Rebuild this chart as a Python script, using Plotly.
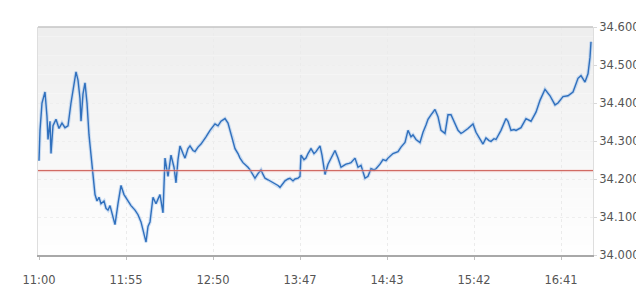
import plotly.graph_objects as go

# sample index (evenly spaced samples) and price
t = [0, 1, 3, 6, 8, 9, 11, 12, 14, 17, 20, 23, 26, 29, 32, 35, 37, 39, 41, 42, 44, 46, 48, 50, 52, 54,
     56, 58, 60, 62, 65, 67, 69, 71, 74, 76, 79, 82, 85, 89, 92, 96, 99, 102, 105, 107, 109, 111, 114,
     117, 119, 121, 124, 126, 129, 132, 135, 137, 139, 141, 144, 146, 149, 151, 154, 156, 159, 162, 167,
     171, 176, 179, 182, 186, 189, 192, 194, 196, 199, 201, 204, 206, 209, 211, 214, 216, 219, 222, 224,
     226, 229, 231, 234, 236, 239, 241, 244, 246, 249, 251, 254, 256, 259, 261, 262, 265, 267, 269, 272,
     275, 277, 281, 283, 286, 289, 293, 296, 299, 302, 305, 307, 310, 312, 316, 319, 322, 326, 329, 332,
     335, 337, 341, 344, 347, 349, 354, 359, 362, 366, 369, 372, 374, 377, 381, 384, 387, 389, 392, 396,
     399, 402, 406, 409, 412, 416, 419, 422, 424, 429, 434, 437, 441, 444, 447, 450, 452, 455, 457, 462,
     467, 469, 472, 475, 477, 482, 487, 492, 497, 501, 506, 511, 516, 519, 524, 529, 534, 537, 539, 542,
     546, 549, 551, 552]

price = [34.248, 34.328, 34.400, 34.429, 34.364, 34.304, 34.352, 34.267, 34.340, 34.357, 34.333, 34.347,
         34.335, 34.340, 34.400, 34.448, 34.482, 34.460, 34.412, 34.352, 34.424, 34.453, 34.400, 34.316,
         34.263, 34.224, 34.159, 34.142, 34.152, 34.135, 34.142, 34.123, 34.118, 34.130, 34.099, 34.080,
         34.135, 34.183, 34.159, 34.142, 34.130, 34.118, 34.106, 34.087, 34.051, 34.034, 34.075, 34.087,
         34.152, 34.135, 34.147, 34.159, 34.111, 34.255, 34.207, 34.263, 34.231, 34.190, 34.251, 34.287,
         34.267, 34.255, 34.280, 34.287, 34.275, 34.272, 34.284, 34.292, 34.311, 34.328, 34.345, 34.340,
         34.352, 34.359, 34.347, 34.320, 34.304, 34.280, 34.267, 34.255, 34.243, 34.239, 34.231, 34.224,
         34.212, 34.202, 34.214, 34.224, 34.212, 34.202, 34.198, 34.195, 34.190, 34.188, 34.183, 34.178,
         34.188, 34.195, 34.200, 34.202, 34.195, 34.200, 34.202, 34.207, 34.263, 34.251, 34.255, 34.267,
         34.280, 34.267, 34.272, 34.287, 34.263, 34.212, 34.239, 34.260, 34.275, 34.255, 34.231, 34.236,
         34.239, 34.241, 34.243, 34.255, 34.231, 34.236, 34.202, 34.207, 34.227, 34.224, 34.227, 34.239,
         34.251, 34.248, 34.255, 34.267, 34.272, 34.284, 34.296, 34.328, 34.311, 34.316, 34.304, 34.296,
         34.323, 34.342, 34.357, 34.369, 34.383, 34.364, 34.328, 34.320, 34.369, 34.369, 34.345, 34.328,
         34.320, 34.323, 34.333, 34.345, 34.323, 34.304, 34.292, 34.308, 34.301, 34.299, 34.306, 34.304,
         34.328, 34.359, 34.352, 34.328, 34.330, 34.328, 34.335, 34.359, 34.352, 34.376, 34.407, 34.436,
         34.419, 34.395, 34.400, 34.417, 34.419, 34.429, 34.448, 34.465, 34.472, 34.455, 34.477, 34.520,
         34.561]

prev_close = 34.222

x_tick_pos = [0, 87, 174, 261, 348, 435, 522]
x_tick_labels = ["11:00", "11:55", "12:50", "13:47", "14:43", "15:42", "16:41"]
y_ticks = [34.0, 34.1, 34.2, 34.3, 34.4, 34.5, 34.6]

fig = go.Figure()

# soft gradient background (light grey at top fading to white)
n_bands = 24
for i in range(n_bands):
    f = i / (n_bands - 1)
    g = int(round(238 + (254 - 238) * f))
    fig.add_shape(type="rect", xref="x domain", yref="y domain",
                  x0=0, x1=1, y0=1 - (i + 1) / n_bands, y1=1 - i / n_bands,
                  fillcolor=f"rgb({g},{g},{g})", line_width=0, layer="below")

# top border (lighter than the bottom axis line)
fig.add_shape(type="line", xref="x domain", yref="y domain", x0=0, x1=1, y0=1, y1=1,
              line=dict(color="#c4c4c4", width=1.5), layer="above")

# halo + line
fig.add_trace(go.Scatter(x=t, y=price, mode="lines",
                         line=dict(color="rgba(120,170,230,0.35)", width=3.5),
                         hoverinfo="skip", showlegend=False))
fig.add_trace(go.Scatter(x=t, y=price, mode="lines",
                         line=dict(color="#3070bd", width=1.4),
                         showlegend=False))

fig.add_hline(y=prev_close, line=dict(color="rgba(240,190,185,0.35)", width=3), layer="above")
fig.add_hline(y=prev_close, line=dict(color="#cc5a52", width=1), layer="above")

fig.update_layout(
    width=644, height=291,
    margin=dict(l=30, r=59, t=17, b=25),
    paper_bgcolor="white",
    plot_bgcolor="white",
    font=dict(family="DejaVu Sans", size=11, color="#555555"),
    showlegend=False,
)

fig.update_xaxes(
    range=[-1, 554],
    tickvals=x_tick_pos, ticktext=x_tick_labels,
    showgrid=True, gridcolor="#ebebeb", griddash="dot", gridwidth=1,
    zeroline=False,
    showline=True, linecolor="#a8a8a8", linewidth=1.5, mirror=False,
    ticks="outside", ticklen=3, tickcolor="#c0c0c0",
    ticklabelstandoff=10,
    tickfont=dict(size=11.5, color="#555555"),
)
fig.update_yaxes(
    range=[34.0, 34.6], side="right",
    tickvals=y_ticks, tickformat=".3f",
    showgrid=True, gridcolor="#eeeeee", griddash="dot", gridwidth=1,
    zeroline=False,
    showline=True, linecolor="#dedede", linewidth=1, mirror=True,
    ticks="outside", ticklen=3, tickcolor="#d8d8d8",
    tickfont=dict(size=11.5, color="#555555"),
)

fig.write_html("out.html")
